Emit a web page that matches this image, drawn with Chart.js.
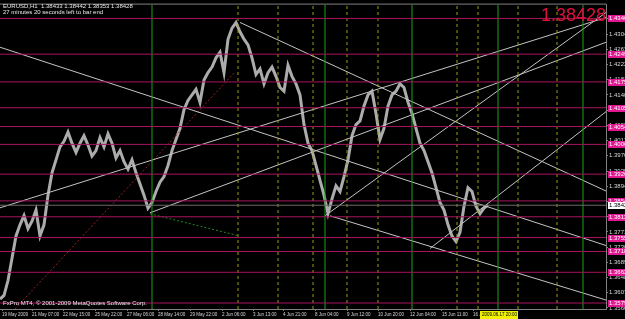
<!DOCTYPE html>
<html>
<head>
<meta charset="utf-8">
<script src="https://cdn.jsdelivr.net/npm/chart.js@4.4.1/dist/chart.umd.min.js"></script>
<style>
  html, body { margin: 0; padding: 0; background: #000; }
  #wrap { width: 625px; height: 319px; position: relative; }
</style>
</head>
<body>
<div id="wrap"><canvas id="chart"></canvas></div>
<script>
// ============================================
// Data (bar index = hours since start, price)
// ============================================

const barIndex = [];
for (let i = 0; i <= 488; i += 4) barIndex.push(i);

const closePrices = [
  1.3590, 1.3600, 1.3640, 1.3700, 1.3760, 1.3790, 1.3815, 1.3780, 1.3800, 1.3830,
  1.3760, 1.3790, 1.3870, 1.3930, 1.3965, 1.4000, 1.4015, 1.4040, 1.4010, 1.3985,
  1.4010, 1.4030, 1.4005, 1.3975, 1.3990, 1.4025, 1.4000, 1.4035, 1.4010, 1.3970,
  1.3990, 1.3960, 1.3940, 1.3965, 1.3930, 1.3900, 1.3870, 1.3835, 1.3850, 1.3880,
  1.3905, 1.3920, 1.3950, 1.3990, 1.4020, 1.4050, 1.4100, 1.4125, 1.4140, 1.4155,
  1.4120, 1.4180, 1.4200, 1.4215, 1.4240, 1.4255, 1.4200, 1.4290, 1.4320, 1.4335,
  1.4310, 1.4290, 1.4275, 1.4240, 1.4195, 1.4210, 1.4170, 1.4200, 1.4215, 1.4190,
  1.4160, 1.4150, 1.4220, 1.4190, 1.4170, 1.4140, 1.4060, 1.4010, 1.3990, 1.3950,
  1.3910, 1.3870, 1.3820, 1.3860, 1.3895, 1.3880, 1.3920, 1.3965, 1.4030, 1.4060,
  1.4070, 1.4110, 1.4140, 1.4150, 1.4090, 1.4020, 1.4050, 1.4110, 1.4140, 1.4150,
  1.4170, 1.4160, 1.4120, 1.4090, 1.4050, 1.4010, 1.3990, 1.3960, 1.3930, 1.3890,
  1.3850, 1.3830, 1.3790, 1.3760, 1.3745, 1.3770, 1.3840, 1.3890, 1.3880, 1.3840,
  1.3820, 1.3835, 1.3843
];

const lastPrice = 1.38428;

// horizontal support / resistance levels (magenta)
const levels = [
  1.43460, 1.42498, 1.41750, 1.41055, 1.40548, 1.40067, 1.39266,
  1.38545, 1.38117, 1.37557, 1.37182, 1.36622, 1.35794
];

// vertical lines: solid green and dashed yellow (bar index)
const greenLines = [152, 325, 412, 498, 583];
const yellowLines = [238, 278, 313, 347, 378, 457, 478, 518, 557];

// trend lines [bar1, price1, bar2, price2]
const trendLines = [
  [0, 1.38358, 606, 1.43486],
  [325, 1.38144, 606, 1.43620],
  [430, 1.37263, 606, 1.40949],
  [150, 1.38224, 606, 1.42818],
  [0, 1.42685, 606, 1.37343],
  [240, 1.43352, 606, 1.38812],
  [330, 1.38144, 606, 1.35874]
];
const redDotted = [15, 1.35633, 235, 1.42017];
const greenDotted = [150, 1.38197, 238, 1.37610];

// axis ticks
const yTicks = [
  1.35660, 1.36070, 1.36480, 1.36890, 1.37300, 1.37710, 1.38120, 1.38530, 1.38940, 1.39350,
  1.39760, 1.40170, 1.40580, 1.40990, 1.41400, 1.41810, 1.42220, 1.42630, 1.43040, 1.43450
];
const xTickPos = [2, 32, 63, 95, 127, 158, 190, 222, 253, 283, 315, 347, 378, 410, 442, 473];
const xTickLabels = [
  '19 May 2009', '21 May 07:00', '22 May 15:00', '25 May 22:00', '27 May 06:00',
  '28 May 14:00', '29 May 22:00', '2 Jun 06:00', '3 Jun 13:00', '4 Jun 21:00',
  '8 Jun 04:00', '9 Jun 12:00', '10 Jun 20:00', '12 Jun 04:00', '15 Jun 11:00', '16 Jun 19:00'
];

const headerLine1 = 'EURUSD,H1  1.38433 1.38442 1.38353 1.38428';
const headerLine2 = '27 minutes 20 seconds left to bar end';
const footerText = 'FxPro MT4, \u00A9 2001-2009 MetaQuotes Software Corp.';
const cursorTime = '2009.06.17 20:00';

// ============================================
// Build datasets
// ============================================

const Y_MIN = 1.35633;
const Y_MAX = 1.43833;
const SMALL_FONT = '"Liberation Sans", Arial';

function segment(seg, color, width, dash) {
  return {
    type: 'line',
    data: [{ x: seg[0], y: seg[1] }, { x: seg[2], y: seg[3] }],
    borderColor: color,
    borderWidth: width,
    borderDash: dash || [],
    pointRadius: 0,
    fill: false
  };
}

const datasets = [];

levels.forEach(p => datasets.push(segment([0, p, 606, p], '#a8145e', 1)));
datasets.push(segment([0, lastPrice, 606, lastPrice], '#6a6a6a', 1));
greenLines.forEach(b => datasets.push(segment([b, Y_MIN, b, Y_MAX], '#1fa01f', 1)));
yellowLines.forEach(b => datasets.push(segment([b, Y_MIN, b, Y_MAX], '#9c9c10', 1, [3, 3])));
trendLines.forEach(t => datasets.push(segment(t, '#c4c4c4', 1)));
datasets.push(segment(redDotted, '#9a2020', 1, [2, 2]));
datasets.push(segment(greenDotted, '#1e8a1e', 1, [2, 2]));

datasets.push({
  type: 'line',
  data: barIndex.map((b, i) => ({ x: b, y: closePrices[i] })),
  borderColor: '#acacac',
  borderWidth: 3,
  pointRadius: 0,
  tension: 0,
  fill: false
});

// ============================================
// Text / label overlay plugin
// ============================================

const overlayPlugin = {
  id: 'mt4Overlay',
  beforeDraw(chart) {
    const c = chart.ctx;
    c.save();
    c.fillStyle = '#000';
    c.fillRect(0, 0, chart.width, chart.height);
    c.restore();
  },
  afterDraw(chart) {
    const c = chart.ctx;
    const area = chart.chartArea;
    const ys = chart.scales.y;
    const xs = chart.scales.x;
    c.save();

    // frame top line
    c.strokeStyle = '#808080';
    c.lineWidth = 1;
    c.beginPath();
    c.moveTo(0, area.top - 0.5);
    c.lineTo(area.right, area.top - 0.5);
    c.stroke();

    // header and footer texts
    c.fillStyle = '#e8e8e8';
    c.font = '6px ' + SMALL_FONT;
    c.textBaseline = 'alphabetic';
    c.textAlign = 'left';
    c.fillText(headerLine1, 3, 8);
    c.fillText(headerLine2, 3, 14);
    c.fillText(footerText, 3, 305);

    // big price
    c.fillStyle = '#e0103c';
    c.font = '18px "Liberation Sans", Arial';
    c.textAlign = 'right';
    c.fillText(lastPrice.toFixed(5), area.right, 21);

    // level labels on price axis
    c.font = '6px ' + SMALL_FONT;
    c.textAlign = 'left';
    c.textBaseline = 'middle';
    levels.forEach(p => {
      const y = Math.round(ys.getPixelForValue(p));
      c.fillStyle = '#e01890';
      c.fillRect(area.right + 2, y - 3, 20, 7);
      c.fillStyle = '#ffffff';
      c.fillText(p.toFixed(5), area.right + 3, y + 0.5);
    });
    const yl = Math.round(ys.getPixelForValue(lastPrice));
    c.fillStyle = '#ffffff';
    c.fillRect(area.right + 2, yl - 3, 20, 7);
    c.fillStyle = '#000000';
    c.fillText(lastPrice.toFixed(5), area.right + 3, yl + 0.5);

    // cursor time box
    const xc = xs.getPixelForValue(480);
    c.font = '4.5px ' + SMALL_FONT;
    c.fillStyle = '#f0f000';
    c.fillRect(xc, area.bottom + 2, 38, 8);
    c.fillStyle = '#000';
    c.fillText(cursorTime, xc + 2, area.bottom + 6);

    c.restore();
  }
};

// ============================================
// Chart
// ============================================

new Chart(document.getElementById('chart'), {
  type: 'line',
  data: { datasets: datasets },
  options: {
    responsive: true,
    maintainAspectRatio: false,
    animation: false,
    layout: { padding: { top: 2, left: 0, right: 0, bottom: 0 } },
    plugins: {
      legend: { display: false },
      tooltip: { enabled: false }
    },
    scales: {
      x: {
        type: 'linear',
        min: 0,
        max: 606,
        afterFit: s => { s.height = 10; },
        afterBuildTicks: s => { s.ticks = xTickPos.map(v => ({ value: v })); },
        grid: { drawOnChartArea: false, color: '#808080', tickLength: 2 },
        border: { color: '#808080' },
        ticks: {
          color: '#d8d8d8',
          font: { size: 4.5, family: SMALL_FONT },
          align: 'start',
          padding: 1,
          maxRotation: 0,
          autoSkip: false,
          callback: v => {
            const i = xTickPos.indexOf(v);
            return i >= 0 ? xTickLabels[i] : '';
          }
        }
      },
      y: {
        type: 'linear',
        position: 'right',
        min: Y_MIN,
        max: Y_MAX,
        afterFit: s => { s.width = 19; },
        afterBuildTicks: s => { s.ticks = yTicks.map(v => ({ value: v })); },
        grid: { drawOnChartArea: false, color: '#808080', tickLength: 2 },
        border: { color: '#808080' },
        ticks: {
          color: '#d8d8d8',
          font: { size: 6, family: SMALL_FONT },
          padding: 1,
          autoSkip: false,
          callback: v => v.toFixed(5)
        }
      }
    }
  },
  plugins: [overlayPlugin]
});
</script>
</body>
</html>
